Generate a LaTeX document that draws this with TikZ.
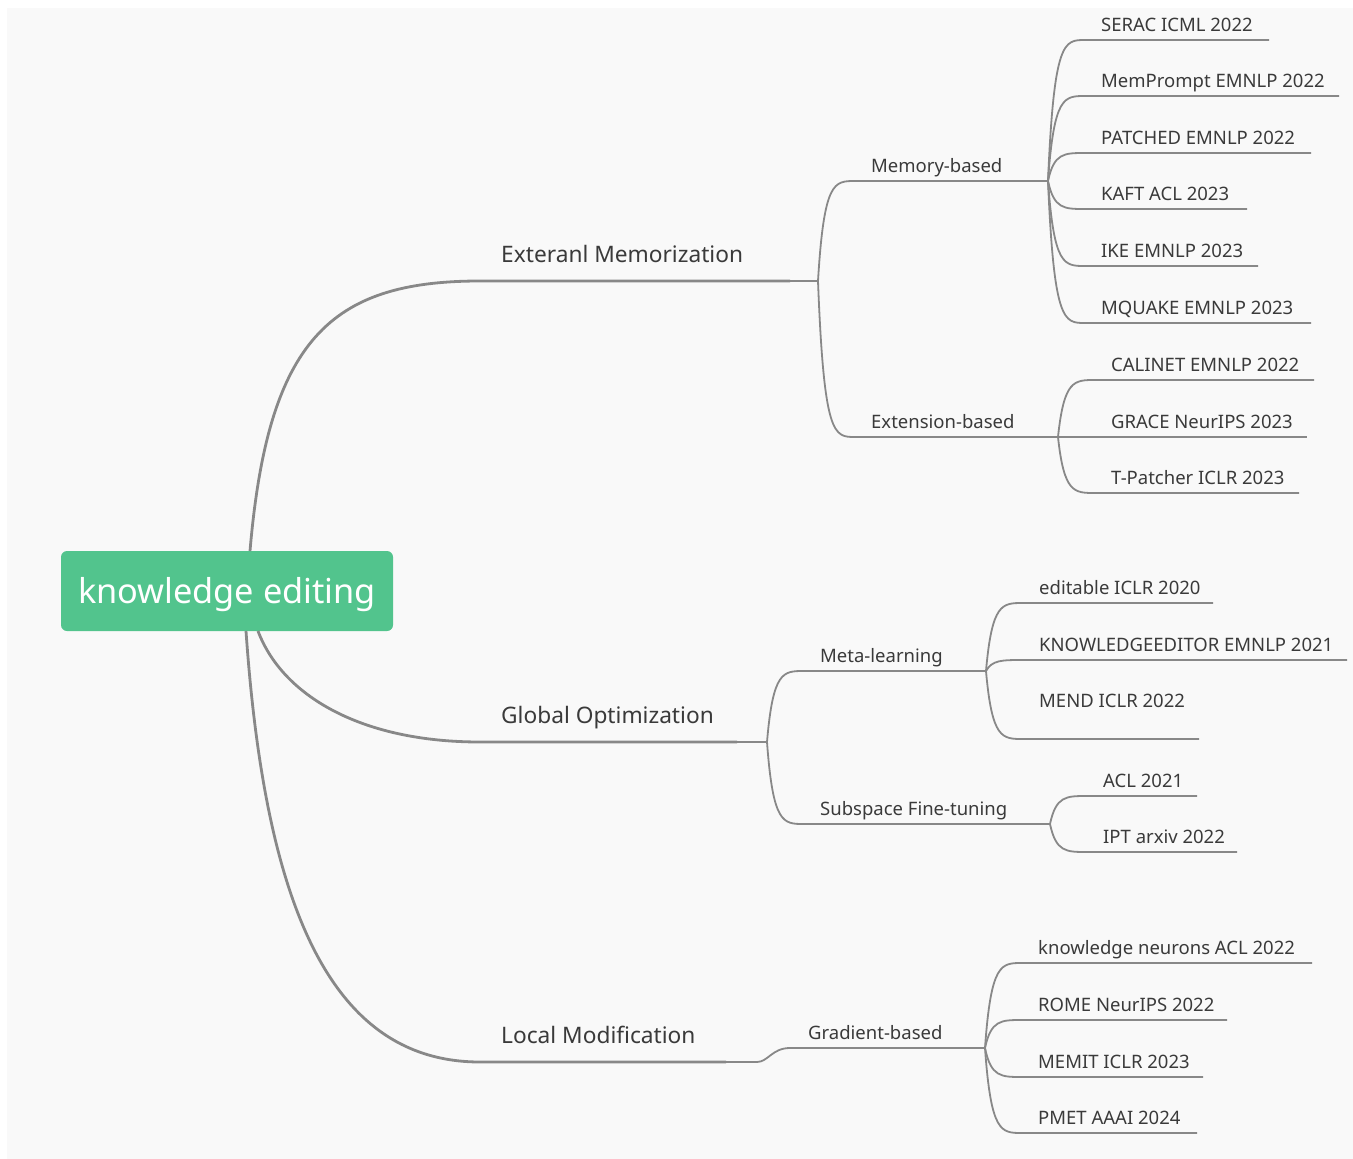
\documentclass[tikz,border=0pt]{standalone}
\usepackage{fontspec}
\setmainfont{Noto Sans}
\usetikzlibrary{calc}
\definecolor{bgc}{HTML}{F9F9F9}
\definecolor{linec}{HTML}{888888}
\definecolor{txtc}{HTML}{3A3A3A}
\definecolor{rootc}{HTML}{52C48D}
\tikzset{
  leaf/.style={font=\fontsize{18.5}{20}\selectfont, text=txtc, inner sep=0pt, anchor=base west},
  mainlbl/.style={font=\fontsize{22.7}{24}\selectfont, text=txtc, inner sep=0pt, anchor=base west},
  thinline/.style={draw=linec, line width=1.8pt},
  thickline/.style={draw=linec, line width=2.8pt},
  rootbox/.style={fill=rootc, rounded corners=6pt, minimum width=332pt, minimum height=80pt,
    text=white, font=\fontsize{34.3}{36}\selectfont, inner sep=0pt},
}
% #1 name, #2 fork name, #3 fork x, #4 line y, #5 end x, #6 text
\newcommand{\mmleaf}[6]{%
  \node[leaf] (#1) at (#3+53,#4-9) {#6};
  \coordinate (#1s) at (#3+37,#4);
  \coordinate (#1a) at (#3+6,#4);
  \coordinate (#1b) at (#3+16,#4);
  \coordinate (#1e) at (#5,#4);
  \draw[thinline] (#2) .. controls (#1a) and (#1b) .. (#1s) -- (#1e);
}
\begin{document}
\begin{tikzpicture}[x=1pt,y=-1pt]
\useasboundingbox (0,0) rectangle (1353,1159);
\fill[white] (0,0) rectangle (1353,1159);
\fill[bgc] (7,8) rectangle (1353,1159);

% root
\node[rootbox] (root) at (227,591) {\raisebox{-12pt}[0pt][0pt]{knowledge editing}};
\coordinate (r1) at (250,551);
\coordinate (r2) at (258,631);
\coordinate (r3) at (246,631);

% main branch 1
\coordinate (emS) at (480,281);
\coordinate (emE) at (790,281);
\coordinate (emF) at (818,281);
\node[mainlbl] (em) at (501,262) {Exteranl Memorization};
\draw[thickline] (r1) .. controls (268,340) and (330,281) .. (emS) -- (emE);
\draw[thinline] (emE) -- (emF);

% main branch 2
\coordinate (goS) at (480,742);
\coordinate (goE) at (737,742);
\coordinate (goF) at (767,742);
\node[mainlbl] (go) at (501,723) {Global Optimization};
\draw[thickline] (r2) .. controls (282,695) and (360,742) .. (goS) -- (goE);
\draw[thinline] (goE) -- (goF);

% main branch 3
\coordinate (lmS) at (480,1062);
\coordinate (lmE) at (726,1062);
\coordinate (lmF) at (757,1062);
\node[mainlbl] (lm) at (501,1043) {Local Modification};
\draw[thickline] (r3) .. controls (265,905) and (330,1062) .. (lmS) -- (lmE);
\draw[thinline] (lmE) -- (lmF);

% sub-branches
\coordinate (mbF) at (1048,181);
\coordinate (ebF) at (1058,437);
\coordinate (mlF) at (986,671);
\coordinate (sfF) at (1050,824);
\coordinate (gbF) at (985,1048);
\mmleaf{mb}{emF}{818}{181}{1048}{Memory-based}
\mmleaf{eb}{emF}{818}{437}{1058}{Extension-based}
\mmleaf{ml}{goF}{767}{671}{986}{Meta-learning}
\mmleaf{sf}{goF}{767}{824}{1050}{Subspace Fine-tuning}
\node[leaf] (gb) at (808,1039) {Gradient-based};
\coordinate (gbS) at (790,1048);
\draw[thinline] (lmF) .. controls (768,1062) and (772,1048) .. (gbS) -- (gbF);

% Memory-based leaves
\mmleaf{l1}{mbF}{1048}{40}{1269}{SERAC ICML 2022}
\mmleaf{l2}{mbF}{1048}{96}{1339}{MemPrompt EMNLP 2022}
\mmleaf{l3}{mbF}{1048}{153}{1311}{PATCHED EMNLP 2022}
\mmleaf{l4}{mbF}{1048}{209}{1247}{KAFT ACL 2023}
\mmleaf{l5}{mbF}{1048}{266}{1258}{IKE EMNLP 2023}
\mmleaf{l6}{mbF}{1048}{323}{1311}{MQUAKE EMNLP 2023}
% Extension-based leaves
\mmleaf{l7}{ebF}{1058}{380}{1314}{CALINET EMNLP 2022}
\mmleaf{l8}{ebF}{1058}{437}{1307}{GRACE NeurIPS 2023}
\mmleaf{l9}{ebF}{1058}{493}{1299}{T-Patcher ICLR 2023}
% Meta-learning leaves
\mmleaf{l10}{mlF}{986}{603}{1213}{editable ICLR 2020}
\mmleaf{l11}{mlF}{986}{660}{1347}{KNOWLEDGEEDITOR EMNLP 2021}
\node[leaf] (l12) at (1039,707) {MEND ICLR 2022};
\coordinate (l12s) at (1023,739);
\coordinate (l12e) at (1199,739);
\draw[thinline] (mlF) .. controls (992,739) and (1002,739) .. (l12s) -- (l12e);
% Subspace leaves
\mmleaf{l13}{sfF}{1050}{796}{1197}{ACL 2021}
\mmleaf{l14}{sfF}{1050}{852}{1237}{IPT arxiv 2022}
% Gradient leaves
\mmleaf{l15}{gbF}{985}{963}{1312}{knowledge neurons ACL 2022}
\mmleaf{l16}{gbF}{985}{1020}{1227}{ROME NeurIPS 2022}
\mmleaf{l17}{gbF}{985}{1077}{1203}{MEMIT ICLR 2023}
\mmleaf{l18}{gbF}{985}{1133}{1197}{PMET AAAI 2024}
\end{tikzpicture}
\end{document}
